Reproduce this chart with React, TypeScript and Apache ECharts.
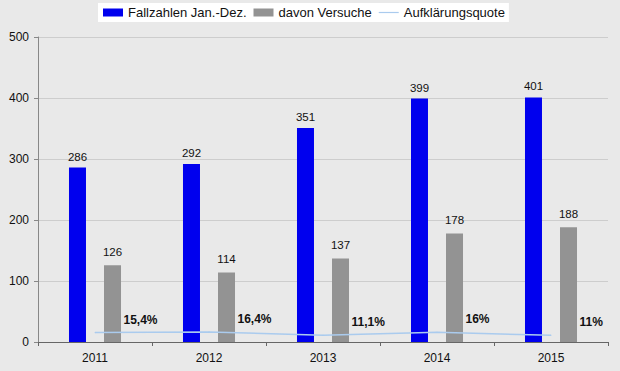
import React, { useEffect, useRef } from "react";
import * as echarts from "echarts";

const years = ["2011", "2012", "2013", "2014", "2015"];
const fallzahlen = [286, 292, 351, 399, 401];
const versuche = [126, 114, 137, 178, 188];
const quote = [15.4, 16.4, 11.1, 16, 11];
const quoteLabels = ["15,4%", "16,4%", "11,1%", "16%", "11%"];

export default function App() {
  const ref = useRef<HTMLDivElement>(null);
  useEffect(() => {
    const chart = echarts.init(ref.current!, null, { renderer: "svg" });
    const font = "Liberation Sans, Arial, sans-serif";
    const lineColor = "#aacbee";
    chart.setOption({
      animation: false,
      backgroundColor: "#e9e9e9",
      textStyle: { fontFamily: font },
      legend: {
        top: 3,
        left: 98,
        backgroundColor: "#ffffff",
        padding: [3, 4, 3, 5],
        itemGap: 7,
        itemWidth: 20,
        itemHeight: 8,
        textStyle: { fontSize: 13, color: "#111", fontFamily: font },
        data: [
          { name: "Fallzahlen Jan.-Dez.", icon: "rect" },
          { name: "davon Versuche", icon: "rect" },
          {
            name: "Aufklärungsquote",
            icon: "path://M0,0H20V1.2H0Z",
            itemStyle: { color: lineColor, opacity: 1 },
          },
        ],
      },
      grid: { left: 38, right: 12, top: 37, bottom: 29 },
      xAxis: {
        type: "category",
        data: years,
        axisLine: { lineStyle: { color: "#666", width: 1 } },
        axisTick: { show: true, length: 4, lineStyle: { color: "#666" } },
        axisLabel: { color: "#111", fontSize: 12, margin: 10, fontFamily: font },
      },
      yAxis: {
        type: "value",
        min: 0,
        max: 500,
        interval: 100,
        axisLine: { show: true, lineStyle: { color: "#888", width: 1 } },
        axisTick: { show: true, length: 4, lineStyle: { color: "#888" } },
        axisLabel: { color: "#111", fontSize: 12, margin: 9, fontFamily: font },
        splitLine: { lineStyle: { color: "#cdcdcd", width: 1 } },
      },
      series: [
        {
          name: "Fallzahlen Jan.-Dez.",
          type: "bar",
          data: fallzahlen,
          barWidth: 17,
          barGap: "106%",
          itemStyle: { color: "#0000ee" },
          label: { show: true, position: "top", distance: 5, color: "#111", fontSize: 11.5, fontFamily: font },
        },
        {
          name: "davon Versuche",
          type: "bar",
          data: versuche,
          barWidth: 17,
          itemStyle: { color: "#939393" },
          label: { show: true, position: "top", distance: 7, color: "#111", fontSize: 11.5, fontFamily: font },
        },
        {
          name: "Aufklärungsquote",
          type: "line",
          data: quote,
          symbol: "circle",
          symbolSize: 1,
          showSymbol: true,
          lineStyle: { color: lineColor, width: 1.5 },
          itemStyle: { color: lineColor },
          label: {
            show: true,
            position: "right",
            distance: 28,
            offset: [0, -13],
            color: "#111",
            fontSize: 12,
            fontWeight: "bold",
            fontFamily: font,
            formatter: (p: any) => quoteLabels[p.dataIndex],
          },
        },
      ],
    });
    return () => chart.dispose();
  }, []);
  return <div ref={ref} style={{ width: 620, height: 371, position: "absolute", left: 0, top: 0 }} />;
}
